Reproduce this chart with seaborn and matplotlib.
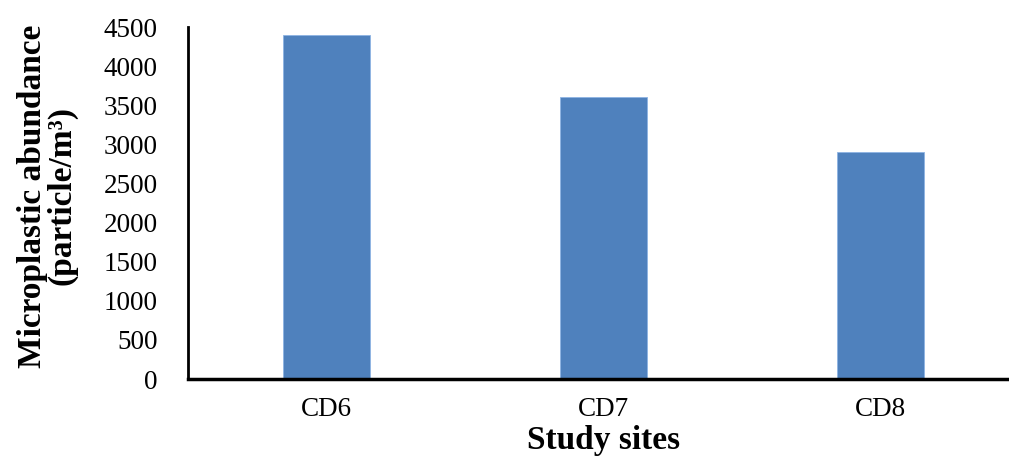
import matplotlib
matplotlib.use("Agg")
import matplotlib.pyplot as plt
import seaborn as sns
import pandas as pd

sites = ["CD6", "CD7", "CD8"]
abundance = [4400, 3600, 2900]
yticks = [0, 500, 1000, 1500, 2000, 2500, 3000, 3500, 4000, 4500]

sns.set_style("white")
plt.rcParams["font.family"] = ["Liberation Serif", "DejaVu Serif"]
plt.rcParams["text.color"] = "black"
plt.rcParams["axes.labelcolor"] = "black"
plt.rcParams["xtick.color"] = "black"
plt.rcParams["ytick.color"] = "black"

df = pd.DataFrame({"site": sites, "abundance": abundance})

fig = plt.figure(figsize=(10.09, 4.61), dpi=100)
ax = fig.add_axes([188 / 1009, (461 - 379) / 461, (1018.5 - 188) / 1009, (379 - 27) / 461])

sns.barplot(data=df, x="site", y="abundance", color="#4F81BD", saturation=1,
            width=0.314, ax=ax, edgecolor="#8EB4E3", linewidth=0.6)

ax.set_xlim(-0.5, 2.5)
ax.set_ylim(0, 4500)
ax.set_yticks(yticks)
ax.set_yticklabels([str(v) for v in yticks])
ax.tick_params(axis="both", length=0, labelsize=19.5, labelcolor="black")
ax.tick_params(axis="y", pad=22)
ax.tick_params(axis="x", pad=13)

for s in ["top", "right"]:
    ax.spines[s].set_visible(False)
ax.spines["left"].set_color("black")
ax.spines["left"].set_linewidth(2)
ax.spines["bottom"].set_color("black")
ax.spines["bottom"].set_linewidth(2.5)
ax.grid(False)

ax.set_xlabel("Study sites", fontsize=24, fontweight="bold", labelpad=2, color="black")
ax.set_ylabel("Microplastic abundance\n(particle/m³)", fontsize=24, fontweight="bold",
              linespacing=0.95, color="black")
ax.yaxis.set_label_coords(-0.133, 0.52)

fig.savefig("out.png", dpi=100)
